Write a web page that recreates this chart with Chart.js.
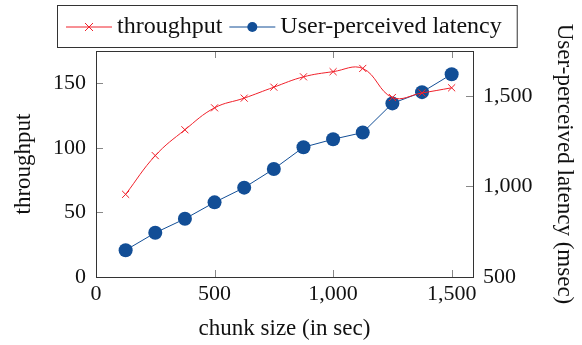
<!DOCTYPE html>
<html>
<head>
<meta charset="utf-8">
<script src="https://cdn.jsdelivr.net/npm/chart.js@4/dist/chart.umd.min.js"></script>
<style>
  html, body { margin: 0; padding: 0; background: #fff; }
  #wrap { width: 582px; height: 345px; }
</style>
</head>
<body>
<div id="wrap"><canvas id="myChart" width="582" height="345"></canvas></div>
<script>
const chunkSizes = [125, 250, 375, 500, 625, 750, 875, 1000, 1125, 1250, 1375, 1500];
const throughput = [64, 94, 114, 131, 138.5, 147, 155, 159, 161.5, 139, 142.5, 146.5];
const latency = [648, 744, 821, 912, 993, 1096, 1216, 1260, 1297, 1458, 1520, 1619];

const xTicks = [0, 500, 1000, 1500];
const throughputTicks = [0, 50, 100, 150];
const latencyTicks = [500, 1000, 1500];

const FONT = 'Liberation Serif';
const RED = '#f0202a';
const BLUE = '#124e96';

const setTicks = values => scale => { scale.ticks = values.map(v => ({ value: v })); };

const frame = {
    id: 'frame',
    beforeDatasetsDraw(chart) {
        const { ctx, chartArea: a, scales } = chart;
        ctx.save();
        ctx.strokeStyle = '#888';
        ctx.lineWidth = 1;
        const len = 7;
        ctx.beginPath();
        scales.x.ticks.forEach(t => {
            const px = Math.round(scales.x.getPixelForValue(t.value)) + 0.5;
            ctx.moveTo(px, a.bottom); ctx.lineTo(px, a.bottom - len);
            ctx.moveTo(px, a.top); ctx.lineTo(px, a.top + len);
        });
        scales.y.ticks.forEach(t => {
            const py = Math.round(scales.y.getPixelForValue(t.value)) + 0.5;
            ctx.moveTo(a.left, py); ctx.lineTo(a.left + len, py);
        });
        scales.y1.ticks.forEach(t => {
            const py = Math.round(scales.y1.getPixelForValue(t.value)) + 0.5;
            ctx.moveTo(a.right, py); ctx.lineTo(a.right - len, py);
        });
        ctx.stroke();
        ctx.strokeStyle = '#333';
        ctx.strokeRect(Math.round(a.left) + 0.5, Math.round(a.top) + 0.5,
            Math.round(a.right - a.left), Math.round(a.bottom - a.top));
        ctx.restore();
    }
};

// legend box drawn above the plot, pgfplots style
const boxLegend = {
    id: 'boxLegend',
    afterDraw(chart) {
        const { ctx } = chart;
        const items = [
            { label: chart.data.datasets[0].label, color: RED, style: 'cross' },
            { label: chart.data.datasets[1].label, color: BLUE, style: 'circle' },
        ];
        ctx.save();
        ctx.font = '24px "' + FONT + '"';
        ctx.textBaseline = 'middle';
        const top = 5, h = 42, cy = top + h / 2 + 1;
        let x = 57;
        const startX = x;
        x += 9;
        items.forEach((it, i) => {
            ctx.strokeStyle = it.color;
            ctx.lineWidth = 1;
            ctx.beginPath();
            ctx.moveTo(x, cy); ctx.lineTo(x + 46, cy);
            ctx.stroke();
            const mx = x + 23;
            if (it.style === 'cross') {
                ctx.beginPath();
                ctx.moveTo(mx - 4, cy - 4); ctx.lineTo(mx + 4, cy + 4);
                ctx.moveTo(mx - 4, cy + 4); ctx.lineTo(mx + 4, cy - 4);
                ctx.stroke();
            } else {
                ctx.fillStyle = it.color;
                ctx.beginPath();
                ctx.arc(mx, cy, 5, 0, Math.PI * 2);
                ctx.fill();
            }
            x += 51;
            ctx.fillStyle = '#111';
            ctx.fillText(it.label, x, cy);
            x += ctx.measureText(it.label).width + 7;
        });
        ctx.strokeStyle = '#333';
        ctx.strokeRect(startX + 0.5, top + 0.5, x - startX + 8, h);
        ctx.restore();
    }
};

const ctx = document.getElementById('myChart');
const myChart = new Chart(ctx, {
    type: 'line',
    data: {
        labels: chunkSizes,
        datasets: [{
            label: 'throughput',
            data: chunkSizes.map((c, i) => ({ x: c, y: throughput[i] })),
            yAxisID: 'y',
            borderColor: RED,
            backgroundColor: RED,
            borderWidth: 1,
            pointStyle: 'crossRot',
            pointRadius: 5,
            pointBorderWidth: 1,
            tension: 0.4,
        }, {
            label: 'User-perceived latency',
            data: chunkSizes.map((c, i) => ({ x: c, y: latency[i] })),
            yAxisID: 'y1',
            borderColor: BLUE,
            backgroundColor: BLUE,
            borderWidth: 1,
            pointStyle: 'circle',
            pointRadius: 7,
            pointBorderWidth: 0,
            tension: 0,
        }]
    },
    options: {
        responsive: false,
        animation: false,
        layout: { padding: { top: 51, left: 0, right: 0, bottom: 0 } },
        plugins: {
            legend: { display: false },
            tooltip: { enabled: false },
        },
        scales: {
            x: {
                type: 'linear',
                min: 0,
                max: 1590,
                grid: { display: false, drawTicks: false },
                border: { display: false },
                ticks: { padding: 4, color: '#111', font: { family: FONT, size: 22 } },
                title: { display: true, text: 'chunk size (in sec)', color: '#111', font: { family: FONT, size: 23 }, padding: { top: 0, bottom: 2 } },
                afterBuildTicks: setTicks(xTicks),
                afterFit(scale) { scale.height = 68; },
            },
            y: {
                position: 'left',
                min: 0,
                max: 175,
                grid: { display: false, drawTicks: false },
                border: { display: false },
                ticks: { padding: 10, color: '#111', font: { family: FONT, size: 22 } },
                title: { display: true, text: 'throughput', color: '#111', font: { family: FONT, size: 23 }, padding: { top: 10, bottom: 0 } },
                afterBuildTicks: setTicks(throughputTicks),
                afterFit(scale) { scale.width = 96; },
            },
            y1: {
                position: 'right',
                min: 500,
                max: 1747,
                grid: { display: false, drawTicks: false },
                border: { display: false },
                ticks: { padding: 10, color: '#111', font: { family: FONT, size: 22 } },
                title: { display: true, text: 'User-perceived latency (msec)', color: '#111', font: { family: FONT, size: 23 }, padding: { top: 4, bottom: 0 } },
                afterBuildTicks: setTicks(latencyTicks),
                afterFit(scale) { scale.width = 109; },
            },
        },
    },
    plugins: [frame, boxLegend],
});
</script>
</body>
</html>
